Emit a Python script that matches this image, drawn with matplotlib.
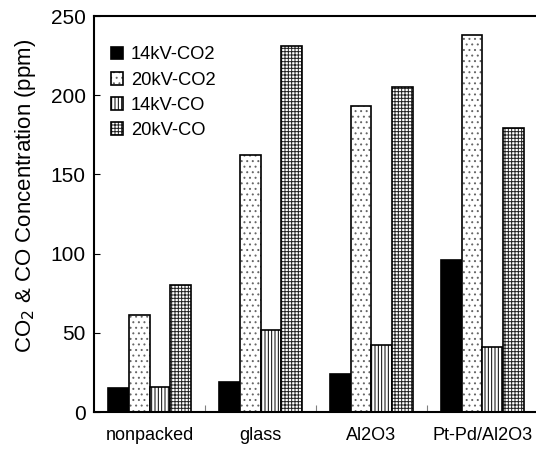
import matplotlib
matplotlib.use("Agg")
import matplotlib.pyplot as plt
from matplotlib.legend_handler import HandlerTuple
import numpy as np

plt.rcParams['font.family'] = ['Liberation Sans', 'DejaVu Sans']
plt.rcParams['hatch.linewidth'] = 0.7

categories = ["nonpacked", "glass", "Al2O3", "Pt-Pd/Al2O3"]
series_names = ["14kV-CO2", "20kV-CO2", "14kV-CO", "20kV-CO"]
co2_14kv = [15, 19, 24, 96]
co2_20kv = [61, 162, 193, 238]
co_14kv = [16, 52, 42, 41]
co_20kv = [80, 231, 205, 179]
values = [co2_14kv, co2_20kv, co_14kv, co_20kv]

faces = ["black", "white", "white", "white"]
hatches = [None, "...", "|||||", "+++++"]
hatch_colors = ["black", "#666666", "black", "#222222"]

fig = plt.figure(figsize=(5.36, 4.5), dpi=100)
ax = fig.add_axes([0.1754, 0.0844, 0.8283, 0.88])

x = np.arange(len(categories))
w = 0.185
handles = []
for i, (name, vals) in enumerate(zip(series_names, values)):
    pos = x + (i - 1.5) * w
    b1 = ax.bar(pos, vals, w, color=faces[i], edgecolor=hatch_colors[i],
                hatch=hatches[i], linewidth=0)
    b2 = ax.bar(pos, vals, w, fill=False, edgecolor="black", linewidth=1.2)
    handles.append((b1[0], b2[0]))

ax.set_xlim(-0.5, 3.5)
ax.set_ylim(0, 250)
ax.set_yticks([0, 50, 100, 150, 200, 250])
ax.tick_params(axis='y', direction='in', labelsize=15, length=4, pad=6)
ax.set_xticks(x + 0.5)
ax.set_xticks(x, minor=True)
ax.set_xticklabels([])
ax.set_xticklabels(categories, minor=True)
ax.tick_params(axis='x', which='major', direction='in', length=5, color='gray')
ax.tick_params(axis='x', which='minor', length=0, labelsize=13, pad=11)
for s in ax.spines.values():
    s.set_linewidth(1.5)
ax.set_ylabel("CO$_2$ & CO Concentration (ppm)", fontsize=16, labelpad=6)
ax.yaxis.set_label_coords(-0.126, 0.545)

ax.legend(handles, series_names, handler_map={tuple: HandlerTuple(ndivide=1)},
          loc="upper left", frameon=False, fontsize=13.2, handlelength=0.7,
          handleheight=0.7, handletextpad=0.4, labelspacing=0.45,
          bbox_to_anchor=(0.0, 0.965), borderaxespad=0.5)

fig.savefig("out.png", dpi=100)
